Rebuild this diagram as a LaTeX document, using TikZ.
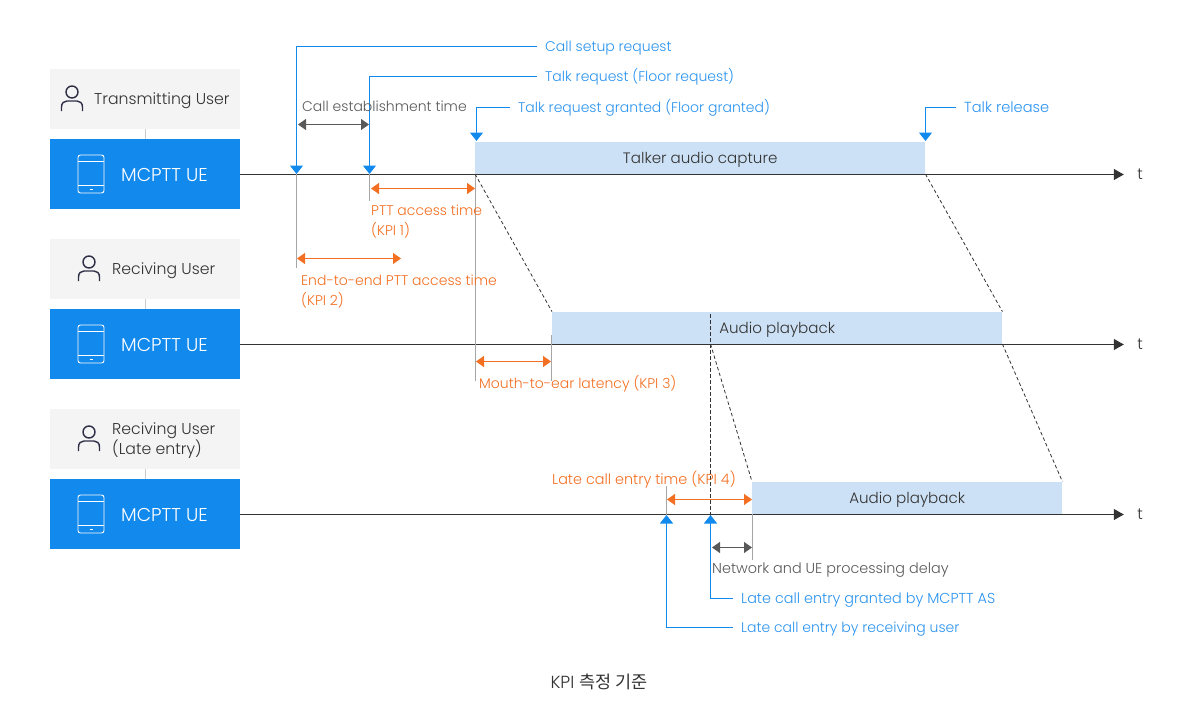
\documentclass[tikz,border=0pt]{standalone}
\usepackage{fontspec}
\setmainfont{Poppins Light}
\newfontfamily\cjk{Noto Sans CJK KR}
\usetikzlibrary{arrows.meta}
\definecolor{ueblue}{HTML}{1289ED}
\definecolor{txtblue}{HTML}{2A93EE}
\definecolor{barblue}{HTML}{CCE1F5}
\definecolor{kpiorange}{HTML}{F36F21}
\definecolor{userbg}{HTML}{F4F4F4}
\definecolor{ink}{HTML}{333333}
\tikzset{every node/.style={font=\fontsize{14}{20}\selectfont, inner sep=0pt, align=left}}
\tikzset{userbox/.style={fill=userbg, anchor=north west, minimum width=190pt, minimum height=60pt}}
\tikzset{uebox/.style={fill=ueblue, anchor=north west, minimum width=190pt, minimum height=70pt}}
\tikzset{bar/.style={fill=barblue, text=ink, anchor=south west, minimum height=32pt, text height=10.6pt, text depth=0pt, font=\fontsize{15.1}{20}\selectfont}}
\tikzset{axisline/.style={draw=ink, line width=1.1pt, -{Triangle[length=10pt,width=11pt]}}}
\tikzset{callout/.style={draw=ueblue, line width=1.1pt, -{Triangle[length=8.5pt,width=13pt]}}}
\tikzset{tick/.style={draw=black!35, line width=1.1pt}}
\tikzset{slant/.style={draw=ink, line width=0.8pt, dash pattern=on 3.5pt off 2.5pt}}
\tikzset{kpispan/.style={draw=kpiorange, line width=1.1pt, {Triangle[length=8pt,width=11pt]}-{Triangle[length=8pt,width=11pt]}}}
\tikzset{delayspan/.style={draw=black!65, line width=1.1pt, {Triangle[length=8pt,width=11pt]}-{Triangle[length=8pt,width=11pt]}}}
\tikzset{bluetxt/.style={text=txtblue, anchor=west, inner xsep=8pt, text height=9pt, text depth=0pt}}
\tikzset{orangetxt/.style={text=kpiorange, anchor=west, yshift=-1pt}}
\tikzset{greytxt/.style={text=black!65, anchor=west, yshift=-1pt}}
\tikzset{wider/.style={font=\fontsize{14.4}{20}\selectfont}}
\tikzset{usericon/.pic={
\draw[draw=ink!90!blue, line width=1.4pt] (0,-7) circle (6);
\draw[draw=ink!90!blue, line width=1.4pt] (-10.5,12) -- (-10.5,8) .. controls (-10.5,4) and (-8,2) .. (-5,2) -- (5,2) .. controls (8,2) and (10.5,4) .. (10.5,8) -- (10.5,12);
}}
\tikzset{phoneicon/.pic={
\draw[white, line width=0.9pt, rounded corners=2.5pt] (-13,-19) rectangle (13,19);
\draw[white, line width=0.9pt] (-13,-13) -- (13,-13) (-13,11) -- (13,11);
\draw[white, line width=1pt] (-1.5,15) -- (1.5,15);
}}

\begin{document}
\begin{tikzpicture}[x=1pt,y=-1pt]
\useasboundingbox (0,0) rectangle (1200,720);
\foreach \i/\ytop/\who/\ix/\tx in {1/69/Transmitting User/72/94,2/239/Reciving User/89/112,3/409/{Reciving User\\(Late entry)}/89/112} {
\pgfmathsetmacro{\yue}{\ytop + 70}
\pgfmathsetmacro{\yax}{\ytop + 105}
\pgfmathsetmacro{\ymid}{\ytop + 30}
\node[userbox] (user\i) at (50,\ytop) {};
\node[uebox] (ue\i) at (50,\yue) {};
\draw[draw=black!20, line width=1pt] (145.5,\ymid+30) -- (145.5,\ymid+40);
\pic at (\ix,\ymid) {usericon};
\pic at (91,\yax) {phoneicon};
\node[text=ink, anchor=west, yshift=-2pt, font=\fontsize{15.7}{20}\selectfont] (who\i) at (\tx,\ymid) {\who};
\node[text=white, anchor=west, yshift=-1pt, font=\fontsize{18.6}{20}\selectfont] (name\i) at (121,\yax) {MCPTT UE};
\node[text=ink, yshift=-0.5pt, minimum width=32pt, minimum height=16pt, font=\fontsize{15.5}{20}\selectfont] (t\i) at (1140,\yax) {t};
}
% bars
\node[bar, minimum width=450pt] (capture) at (475,174) {Talker audio capture};
\node[bar, minimum width=450pt] (playback) at (552,344) {Audio playback};
\node[bar, minimum width=310pt] (late) at (752,514) {Audio playback};
\foreach \i in {1,2,3} {
\draw[axisline] (ue\i.east |- t\i) -- (t\i);
}
% points on the lines
\coordinate (setup) at (296.5,174);
\coordinate (talk) at (369.5,174);
\coordinate (granted) at (476.5,141);
\coordinate (release) at (925.5,141);
\coordinate (entry) at (666.5,515);
\coordinate (entrygr) at (710.5,515);
% grey ticks
\draw[tick] (setup) -- (296.5,268);
\draw[tick] (talk) -- (369.5,201);
\draw[tick] (475.5,174) -- (475.5,381);
\draw[tick] (551.5,335) -- (551.5,381);
\draw[tick] (666.5,486) -- (entry);
\draw[tick] (752.5,514) -- (752.5,560);
% dashed
\draw[slant] (capture.south west) -- (playback.north west);
\draw[slant] (capture.south east) -- (playback.north east);
\draw[slant] (710.5,314) -- (710.5,525);
\draw[slant] (710.5,344) -- (late.north west);
\draw[slant] (playback.south east) -- (late.north east);
% blue callouts
\node[bluetxt] (lsetup) at (537,46.5) {Call setup request};
\node[bluetxt] (ltalk) at (537,76.5) {Talk request (Floor request)};
\node[bluetxt] (lgranted) at (510,107.5) {Talk request granted (Floor granted)};
\node[bluetxt, font=\fontsize{14.6}{20}\selectfont] (lrelease) at (956,107.5) {Talk release};
\node[bluetxt, wider] (lentrygr) at (733,598.5) {Late call entry granted by MCPTT AS};
\node[bluetxt] (lentry) at (733,627.5) {Late call entry by receiving user};
\draw[callout] (lsetup.west) -| (setup);
\draw[callout] (ltalk.west) -| (talk);
\draw[callout] (lgranted.west) -| (granted);
\draw[callout] (lrelease.west) -| (release);
\draw[callout] (lentrygr.west) -| (entrygr);
\draw[callout] (lentry.west) -| (entry);
% spans
\coordinate (a1) at (298,124.5);
\coordinate (a2) at (369,124.5);
\coordinate (b1) at (371,188.5);
\coordinate (b2) at (475,188.5);
\coordinate (c1) at (297,258.5);
\coordinate (c2) at (401,258.5);
\coordinate (d1) at (476,361.5);
\coordinate (d2) at (551,361.5);
\coordinate (e1) at (667,499.5);
\coordinate (e2) at (752,499.5);
\coordinate (f1) at (712,547.5);
\coordinate (f2) at (752,547.5);
\draw[delayspan] (a1) -- (a2);
\draw[kpispan] (b1) -- (b2);
\draw[kpispan] (c1) -- (c2);
\draw[kpispan] (d1) -- (d2);
\draw[kpispan] (e1) -- (e2);
\draw[delayspan] (f1) -- (f2);
% labels
\node[greytxt] (lest) at (302,105) {Call establishment time};
\node[orangetxt] (lkpi1) at (371,221) {PTT access time\\(KPI 1)};
\node[orangetxt] (lkpi2) at (301,291) {End-to-end PTT access time\\(KPI 2)};
\node[orangetxt] (lkpi3) at (479,383) {Mouth-to-ear latency (KPI 3)};
\node[orangetxt, wider] (lkpi4) at (552,479) {Late call entry time (KPI 4)};
\node[greytxt, wider] (lnet) at (712,569) {Network and UE processing delay};
\node[text=ink, font=\fontsize{17.5}{20}\selectfont] (title) at (599,682) {KPI {\cjk 측정 기준}};
\end{tikzpicture}
\end{document}
